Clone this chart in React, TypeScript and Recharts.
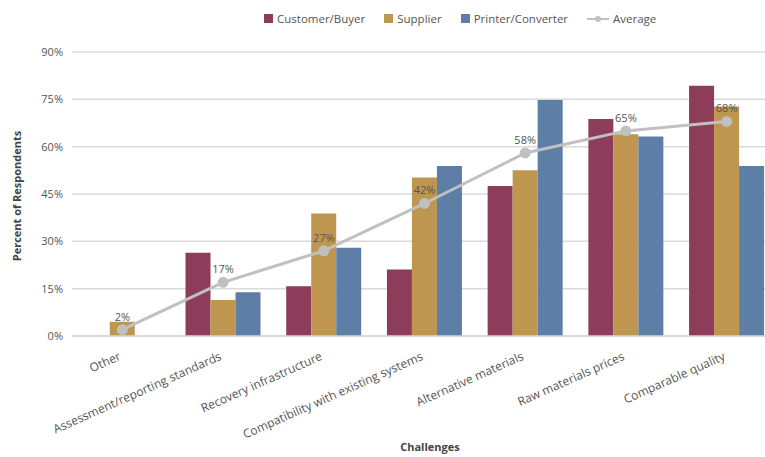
import { Bar, CartesianGrid, ComposedChart, LabelList, Legend, Line, XAxis, YAxis } from 'recharts'

// Share of respondents naming each challenge, by respondent type
const challenges = [
  'Other',
  'Assessment/reporting standards',
  'Recovery infrastructure',
  'Compatibility with existing systems',
  'Alternative materials',
  'Raw materials prices',
  'Comparable quality',
]
const customerBuyer = [0, 26.4, 15.8, 21.1, 47.5, 68.8, 79.3]
const supplier = [4.5, 11.4, 38.8, 50.2, 52.5, 63.9, 72.7]
const printerConverter = [0, 13.9, 28, 53.9, 74.8, 63.2, 53.9]
const average = [2, 17, 27, 42, 58, 65, 68]
const yTicks = [0, 15, 30, 45, 60, 75, 90]

const data = challenges.map((name, i) => ({
  name,
  customer: customerBuyer[i],
  supplier: supplier[i],
  printer: printerConverter[i],
  average: average[i],
}))

const RED = '#8D3D59'
const GOLD = '#BF964F'
const BLUE = '#5D7FA7'
const GREY_LINE = '#C0C0C0'
const FONT = '"Open Sans", Lato, sans-serif'

const legendItems = [
  { label: 'Customer/Buyer', color: RED, kind: 'box' },
  { label: 'Supplier', color: GOLD, kind: 'box' },
  { label: 'Printer/Converter', color: BLUE, kind: 'box' },
  { label: 'Average', color: GREY_LINE, kind: 'line' },
]

function LegendContent() {
  return (
    <div style={{ display: 'flex', alignItems: 'center', gap: 19, fontFamily: FONT, fontSize: 11.5, color: '#555' }}>
      {legendItems.map((item) => (
        <div key={item.label} style={{ display: 'flex', alignItems: 'center', gap: 4 }}>
          {item.kind === 'box' ? (
            <span style={{ width: 9, height: 9, background: item.color, display: 'inline-block' }} />
          ) : (
            <svg width={22} height={10}>
              <line x1={0} y1={5} x2={22} y2={5} stroke={item.color} strokeWidth={2} />
              <circle cx={11} cy={5} r={3} fill={item.color} />
            </svg>
          )}
          <span>{item.label}</span>
        </div>
      ))}
    </div>
  )
}

function CategoryTick(props: any) {
  const { x, y, payload } = props
  return (
    <g transform={`translate(${x - 4},${y + 6})`}>
      <text
        x={0}
        y={0}
        dy={8}
        textAnchor="end"
        transform="rotate(-24)"
        fontFamily={FONT}
        fontSize={12}
        fill="#555"
      >
        {payload.value}
      </text>
    </g>
  )
}

export default function App() {
  return (
    <div style={{ position: 'absolute', left: 0, top: 0, width: 765, height: 457, overflow: 'hidden', background: '#fff' }}>
      <ComposedChart
        width={790}
        height={457}
        data={data}
        margin={{ top: 37, right: 13, bottom: 0, left: 32 }}
        barCategoryGap="12.7%"
        barGap={0}
      >
        <CartesianGrid vertical={false} stroke="#DADADA" strokeWidth={1.5} />
        <XAxis
          dataKey="name"
          height={121}
          tickLine={false}
          axisLine={{ stroke: '#D6D6D6', strokeWidth: 1.5 }}
          interval={0}
          tick={<CategoryTick />}
          tickSize={0}
          tickMargin={10}
          label={() => (
            <text x={430} y={451} textAnchor="middle" fontFamily={FONT} fontSize={11} fontWeight="bold" fill="#444">
              Challenges
            </text>
          )}
        />
        <YAxis
          width={40}
          domain={[0, 90]}
          ticks={yTicks}
          tickFormatter={(v) => `${v}%`}
          tickLine={false}
          axisLine={false}
          tickSize={0}
          tickMargin={9}
          tick={{ fontFamily: FONT, fontSize: 11, fill: '#555' }}
          label={() => (
            <text
              x={21}
              y={196}
              transform="rotate(-90 21 196)"
              textAnchor="middle"
              fontFamily={FONT}
              fontSize={11}
              fontWeight="bold"
              fill="#444"
            >
              Percent of Respondents
            </text>
          )}
        />
        <Legend
          verticalAlign="top"
          content={<LegendContent />}
          wrapperStyle={{ top: 11, left: 264, width: 'auto' }}
        />
        <Bar dataKey="customer" name="Customer/Buyer" fill={RED} isAnimationActive={false} />
        <Bar dataKey="supplier" name="Supplier" fill={GOLD} isAnimationActive={false} />
        <Bar dataKey="printer" name="Printer/Converter" fill={BLUE} isAnimationActive={false} />
        <Line
          dataKey="average"
          name="Average"
          stroke={GREY_LINE}
          strokeWidth={3}
          dot={{ r: 4, fill: GREY_LINE, stroke: GREY_LINE }}
          isAnimationActive={false}
        >
          <LabelList
            dataKey="average"
            position="top"
            offset={9}
            formatter={(v: any) => `${v}%`}
            style={{ fontFamily: FONT, fontSize: 11, fill: '#555' }}
          />
        </Line>
      </ComposedChart>
    </div>
  )
}
